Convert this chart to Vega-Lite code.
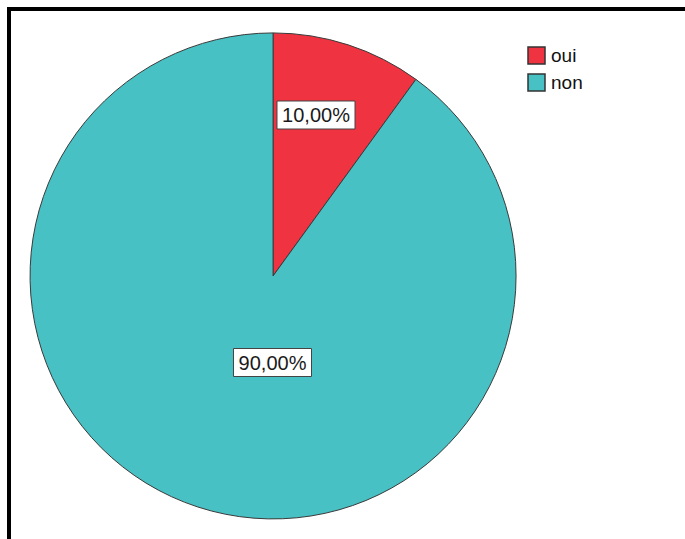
{
  "$schema": "https://vega.github.io/schema/vega-lite/v6.json",
  "width": 676,
  "height": 530,
  "autosize": "none",
  "padding": {"left": 9, "top": 9, "right": 0, "bottom": 0},
  "background": "white",
  "config": {
    "view": {"stroke": "black", "strokeWidth": 4, "strokeDash": [676, 1206, 530, 10]}
  },
  "data": {
    "values": [
      {"cat": "oui", "pct": 10, "label": "10,00%"},
      {"cat": "non", "pct": 90, "label": "90,00%"}
    ]
  },
  "resolve": {"scale": {"x": "independent", "y": "independent"}},
  "layer": [
    {
      "mark": {"type": "arc", "outerRadius": 243, "stroke": "#3a3a3a", "strokeWidth": 1},
      "encoding": {
        "theta": {"field": "pct", "type": "quantitative", "stack": true},
        "order": {"field": "cat", "sort": "descending"},
        "x": {"datum": 0, "type": "quantitative", "scale": {"domain": [-1.091, 1.702], "nice": false, "zero": false}, "axis": null},
        "y": {"datum": 0, "type": "quantitative", "scale": {"domain": [-1.087, 1.103], "nice": false, "zero": false}, "axis": null},
        "color": {
          "field": "cat",
          "type": "nominal",
          "scale": {"domain": ["oui", "non"], "range": ["#ef3340", "#47c1c4"]},
          "legend": {
            "orient": "none",
            "legendX": 518,
            "legendY": 37,
            "title": null,
            "padding": 0,
            "symbolType": "square",
            "symbolSize": 289,
            "symbolStrokeColor": "#333333",
            "symbolStrokeWidth": 1.5,
            "symbolOpacity": 1,
            "labelFont": "Liberation Sans",
            "labelFontSize": 19,
            "labelColor": "#111111",
            "labelOffset": 5,
            "rowPadding": 4
          }
        }
      }
    },
    {
      "mark": {"type": "point", "shape": "M-2.786,-1H2.786V1H-2.786Z", "size": 784, "filled": true, "fill": "white", "stroke": "#444444", "strokeWidth": 1, "opacity": 1},
      "encoding": {
        "x": {"field": "pct", "type": "quantitative", "scale": {"domain": [10, 90], "range": [307, 263.5], "nice": false, "zero": false}, "axis": null},
        "y": {"field": "pct", "type": "quantitative", "scale": {"domain": [10, 90], "range": [106, 353.5], "nice": false, "zero": false}, "axis": null}
      }
    },
    {
      "mark": {"type": "text", "font": "Liberation Sans", "fontSize": 20, "fill": "#1a1a1a", "align": "center", "baseline": "middle"},
      "encoding": {
        "text": {"field": "label"},
        "x": {"field": "pct", "type": "quantitative", "scale": {"domain": [10, 90], "range": [307, 263.5], "nice": false, "zero": false}, "axis": null},
        "y": {"field": "pct", "type": "quantitative", "scale": {"domain": [10, 90], "range": [107, 354.5], "nice": false, "zero": false}, "axis": null}
      }
    }
  ]
}
